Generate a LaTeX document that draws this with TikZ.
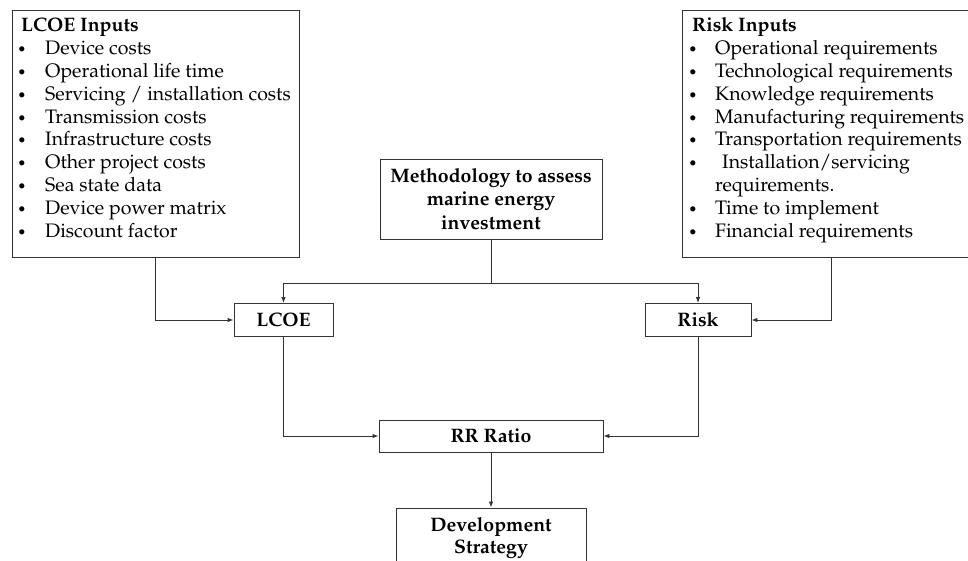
\documentclass[tikz,border=0pt]{standalone}
\usepackage[T1]{fontenc}
\usepackage{mathpazo}
\usepackage{tikz}
\usetikzlibrary{arrows.meta,positioning}
\newcommand\listfont{\fontsize{19.5}{22.8}\selectfont}
\tikzset{
inBox/.style={
	draw=black!80, line width=0.9pt, inner sep=0pt
}
, stepBox/.style={
	draw=black!80, line width=0.9pt, inner sep=0pt,
	align=center, font=\fontsize{19.5}{21.7}\selectfont\bfseries
}
, methBox/.style={
	stepBox, font=\fontsize{19.5}{23.3}\selectfont\bfseries
}
% list text
, listHead/.style={anchor=base west, inner sep=0pt, font=\listfont\bfseries}
, listItem/.style={anchor=base west, inner sep=0pt, font=\listfont}
, myBullet/.style={anchor=base, inner sep=0pt, font=\fontsize{15}{15}\selectfont}
% links
, myLine/.style={draw=black!80, line width=0.9pt}
, myLink/.style={myLine, -{Latex[length=6pt,width=4.5pt]}}
}

\begin{document}
\begin{tikzpicture}[x=1pt,y=-1pt]
	\useasboundingbox (0,0) rectangle (968,561);
	\clip (0,0) rectangle (968,561);
	% input boxes
	\node[inBox, minimum width=287pt, minimum height=247pt] (lcoeIn) at (155.5,133.5) {};
	\node[inBox, minimum width=298pt, minimum height=247pt] (riskIn) at (831,133.5) {};
	% LCOE inputs
	\node[listHead] (lcHead) at (21,32) {LCOE Inputs};
	\foreach \txt [count=\i] in {Device costs, Operational life time, {Servicing / installation costs}, Transmission costs, Infrastructure costs, Other project costs, Sea state data, Device power matrix, Discount factor}{
		\node[myBullet] (lcB\i) at (22,{32+22.8*\i}) {\textbullet};
		\node[listItem] (lcT\i) at (45,{32+22.8*\i}) {\txt};
	}
	% risk inputs
	\node[listHead] (rkHead) at (692,32) {Risk Inputs};
	\foreach \txt [count=\i] in {Operational requirements, Technological requirements, Knowledge requirements, Manufacturing requirements, Transportation requirements, {\hspace*{7pt}Installation/servicing}, requirements., Time to implement, Financial requirements}{
		\node[listItem] (rkT\i) at (715,{32+22.8*\i}) {\txt};
	}
	\foreach \i in {1,...,6,8,9}{
		\node[myBullet] (rkB\i) at (693,{32+22.8*\i}) {\textbullet};
	}
	% steps
	\node[methBox, minimum width=222pt, minimum height=80pt] (meth) at (491,199) {Methodology to assess\\marine energy\\investment};
	\node[stepBox, minimum width=99pt, minimum height=33pt] (lcoe) at (283.5,320) {LCOE};
	\node[stepBox, minimum width=106pt, minimum height=33pt] (risk) at (698,320) {Risk};
	\node[stepBox, minimum width=224pt, minimum height=32pt] (rr) at (491,436) {RR Ratio};
	\node[stepBox, minimum width=190pt, minimum height=60pt] (dev) at (491,538) {Development\\Strategy};
	% links
	\coordinate (split) at (491,283);
	\draw[myLine] (meth.south) -- (split);
	\draw[myLink] (split) -| (lcoe.north);
	\draw[myLink] (split) -| (risk.north);
	\draw[myLink] (lcoeIn.south) |- (lcoe.west);
	\draw[myLink] (riskIn.south) |- (risk.east);
	\draw[myLink] (lcoe.south) |- (rr.west);
	\draw[myLink] (risk.south) |- (rr.east);
	\draw[myLink] (rr.south) -- (dev.north);
\end{tikzpicture}
\end{document}
